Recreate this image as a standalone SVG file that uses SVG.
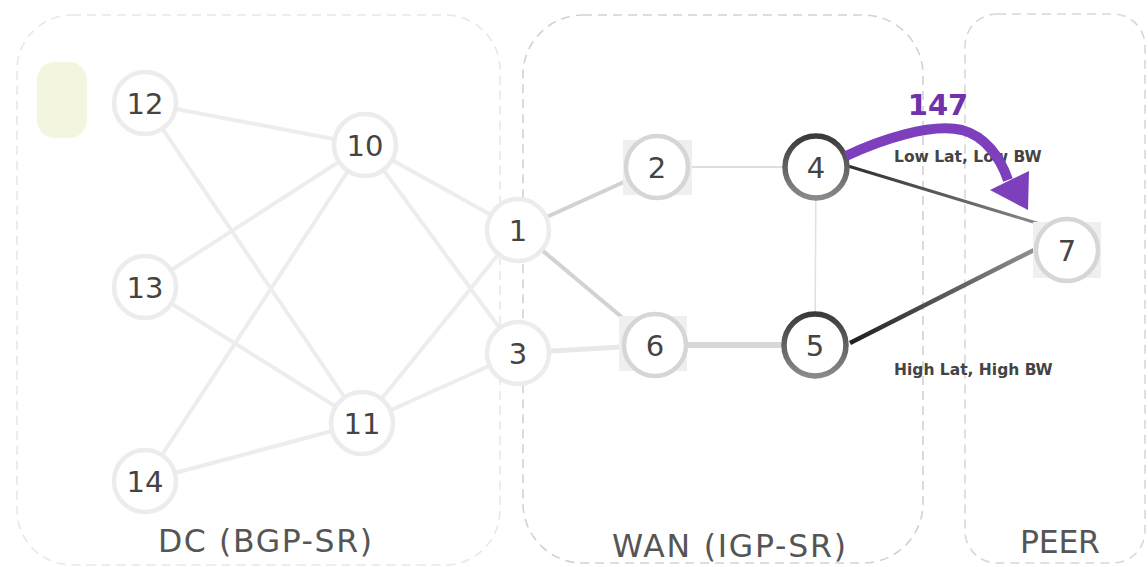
<svg xmlns="http://www.w3.org/2000/svg" width="1148" height="567" viewBox="0 0 1148 567">
  <style>
    .zone { fill: none; stroke-dasharray: 9 6; stroke-width: 1.6; }
    .zlabel { font-family: "DejaVu Sans", Verdana, sans-serif; font-size: 31.5px; fill: #555; text-anchor: middle; }
    .num { font-family: "DejaVu Sans", Verdana, sans-serif; font-size: 29px; fill: #444; text-anchor: middle; dominant-baseline: central; }
    .ring-faint { fill: #fff; stroke: #ececec; stroke-width: 4.5; }
    .ring-mid { fill: #fff; stroke: #d6d6d6; stroke-width: 4.5; }
    .ring-dark { fill: #fff; stroke: url(#darkRing); stroke-width: 5.5; }
    .pad { fill: #efefef; }
    .dc-link { stroke: #ededed; stroke-width: 4; }
    .tag { font-family: "DejaVu Sans", Verdana, sans-serif; font-size: 15.5px; font-weight: bold; fill: #444; }
  </style>
  <defs>
    <linearGradient id="darkRing" x1="0" y1="0" x2="0" y2="1">
      <stop offset="0" stop-color="#3a3a3a"/>
      <stop offset="1" stop-color="#8a8a8a"/>
    </linearGradient>
    <linearGradient id="g47" gradientUnits="userSpaceOnUse" x1="848" y1="166" x2="1040" y2="224">
      <stop offset="0" stop-color="#2e2e2e"/>
      <stop offset="1" stop-color="#8a8a8a"/>
    </linearGradient>
    <linearGradient id="g57" gradientUnits="userSpaceOnUse" x1="850" y1="343" x2="1034" y2="250">
      <stop offset="0" stop-color="#1e1e1e"/>
      <stop offset="1" stop-color="#909090"/>
    </linearGradient>
  </defs>

  <!-- domain outlines -->
  <g id="zones">
    <rect class="zone" x="17" y="15" width="483" height="550" rx="55" stroke="#e8e8e8"/>
    <rect class="zone" x="523" y="15" width="400" height="548" rx="60" stroke="#d2d2d2"/>
    <rect class="zone" x="965" y="14" width="180" height="549" rx="32" stroke="#d8d8d8"/>
    <text class="zlabel" x="265" y="552" textLength="214" lengthAdjust="spacing">DC (BGP-SR)</text>
    <text class="zlabel" x="729" y="557" textLength="234" lengthAdjust="spacing">WAN (IGP-SR)</text>
    <text class="zlabel" x="1060" y="553" textLength="80" lengthAdjust="spacing">PEER</text>
  </g>

  <rect id="marker-box" x="37" y="62" width="50" height="76" rx="18" fill="#f3f5df"/>

  <!-- links -->
  <g id="connectors" fill="none">
    <line class="dc-link" x1="145" y1="103" x2="365" y2="145"/>
    <line class="dc-link" x1="145" y1="103" x2="362" y2="423"/>
    <line class="dc-link" x1="145" y1="287" x2="365" y2="145"/>
    <line class="dc-link" x1="145" y1="287" x2="362" y2="423"/>
    <line class="dc-link" x1="145" y1="481" x2="365" y2="145"/>
    <line class="dc-link" x1="145" y1="481" x2="362" y2="423"/>
    <line class="dc-link" x1="365" y1="145" x2="518" y2="230"/>
    <line class="dc-link" x1="365" y1="145" x2="518" y2="353"/>
    <line class="dc-link" x1="362" y1="423" x2="518" y2="230"/>
    <line class="dc-link" x1="362" y1="423" x2="518" y2="353"/>
    <line x1="518" y1="230" x2="657" y2="167" stroke="#d2d2d2" stroke-width="4"/>
    <line x1="518" y1="230" x2="655" y2="345" stroke="#d2d2d2" stroke-width="4"/>
    <line x1="518" y1="353" x2="655" y2="345" stroke="#e8e8e8" stroke-width="5"/>
    <line x1="657" y1="167" x2="816" y2="167" stroke="#dedede" stroke-width="2"/>
    <line x1="655" y1="345" x2="815" y2="345" stroke="#d8d8d8" stroke-width="6"/>
    <line x1="816" y1="167" x2="815" y2="345" stroke="#e0e0e0" stroke-width="1.5"/>
    <line x1="848" y1="166" x2="1040" y2="224" stroke="url(#g47)" stroke-width="3"/>
    <line x1="850" y1="343" x2="1034" y2="250" stroke="url(#g57)" stroke-width="4.5"/>
  </g>

  <!-- nodes -->
  <g id="n12"><circle class="ring-faint" cx="145" cy="103" r="31"/><text class="num" x="145" y="104">12</text></g>
  <g id="n13"><circle class="ring-faint" cx="145" cy="287" r="31"/><text class="num" x="145" y="288">13</text></g>
  <g id="n14"><circle class="ring-faint" cx="145" cy="481" r="31"/><text class="num" x="145" y="482">14</text></g>
  <g id="n10"><circle class="ring-faint" cx="365" cy="145" r="31"/><text class="num" x="365" y="146">10</text></g>
  <g id="n11"><circle class="ring-faint" cx="362" cy="423" r="31"/><text class="num" x="362" y="424">11</text></g>
  <g id="n1"><circle class="ring-faint" cx="518" cy="230" r="31"/><text class="num" x="518" y="231">1</text></g>
  <g id="n3"><circle class="ring-faint" cx="518" cy="353" r="31"/><text class="num" x="518" y="354">3</text></g>
  <g id="n2"><rect class="pad" x="623" y="140" width="69" height="55"/><circle class="ring-mid" cx="657" cy="167" r="31"/><text class="num" x="657" y="168">2</text></g>
  <g id="n6"><rect class="pad" x="619" y="316" width="68" height="55"/><circle class="ring-mid" cx="655" cy="345" r="31"/><text class="num" x="655" y="346">6</text></g>
  <g id="n4"><circle class="ring-dark" cx="816" cy="167" r="31"/><text class="num" x="816" y="168">4</text></g>
  <g id="n5"><circle class="ring-dark" cx="815" cy="345" r="31"/><text class="num" x="815" y="346">5</text></g>
  <g id="n7"><rect class="pad" x="1033" y="222" width="68" height="56"/><circle class="ring-mid" cx="1067" cy="250" r="31"/><text class="num" x="1067" y="251">7</text></g>

  <!-- path labels -->
  <g id="link-labels">
    <text class="tag" x="894" y="162">Low Lat, Low BW</text>
    <text class="tag" x="894" y="375">High Lat, High BW</text>
  </g>

  <!-- steered path 147 -->
  <g id="path147">
    <path d="M 846 156 C 880 140 930 123 962 130 C 985 136 1000 157 1008 180" fill="none" stroke="#7d3fbc" stroke-width="10"/>
    <polygon points="990,190 1029,171 1028,210" fill="#7d3fbc"/>
    <text x="938" y="115" font-family="DejaVu Sans, Verdana, sans-serif" font-size="29" font-weight="bold" fill="#6f32aa" text-anchor="middle">147</text>
  </g>
</svg>
